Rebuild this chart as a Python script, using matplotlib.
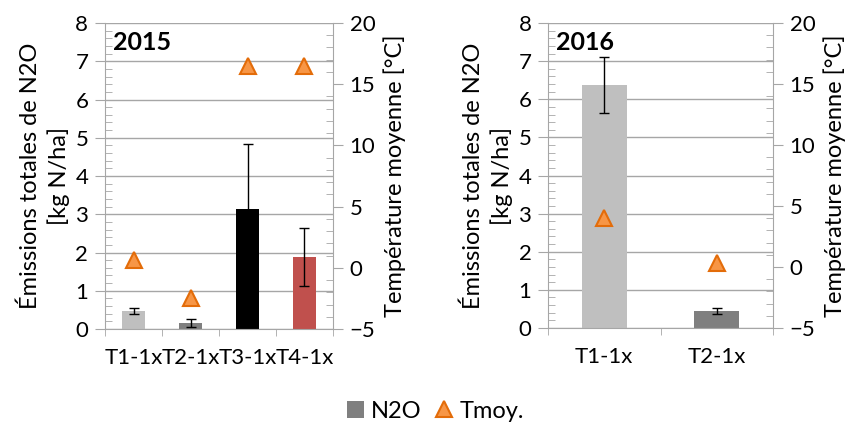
import matplotlib.pyplot as plt
from matplotlib.lines import Line2D
from matplotlib.patches import Patch
from matplotlib.ticker import MultipleLocator, FixedLocator

plt.rcParams['font.family'] = ['Lato', 'DejaVu Sans']

# ---------------- data ----------------
cat_2015 = ["T1-1x", "T2-1x", "T3-1x", "T4-1x"]
n2o_2015 = [0.47, 0.16, 3.13, 1.88]
err_2015 = [0.09, 0.10, 1.71, 0.76]
tmoy_2015 = [0.6, -2.5, 16.5, 16.5]
col_2015 = ["#BFBFBF", "#7F7F7F", "#000000", "#C0504D"]

cat_2016 = ["T1-1x", "T2-1x"]
n2o_2016 = [6.37, 0.45]
err_2016 = [0.73, 0.08]
tmoy_2016 = [4.0, 0.3]
col_2016 = ["#BFBFBF", "#7F7F7F"]

GRIS = "#A6A6A6"
TRI_FACE = "#F79646"
TRI_EDGE = "#E36C09"
FS_TICK = 16
FS_LAB = 17


def panneau(rect, cats, vals, errs, temps, cols, annee):
    ax = fig.add_axes(rect)
    x = list(range(len(cats)))
    ax.bar(x, vals, width=0.4, color=cols, zorder=2)
    ax.errorbar(x, vals, yerr=errs, fmt="none", ecolor="black",
                elinewidth=1, capsize=3.5, capthick=1, zorder=3)

    ax.set_xlim(-0.5, len(cats) - 0.5)
    ax.set_ylim(0, 8)
    ax.yaxis.set_major_locator(MultipleLocator(1))
    ax.yaxis.set_minor_locator(MultipleLocator(0.2))
    ax.grid(axis="y", which="major", color=GRIS, linewidth=1, zorder=0)
    ax.set_axisbelow(True)

    ax.set_xticks(x)
    ax.set_xticklabels(cats, fontsize=FS_TICK)
    ax.xaxis.set_minor_locator(FixedLocator([i - 0.5 for i in range(len(cats) + 1)]))
    ax.tick_params(axis="x", which="major", length=0, pad=14)
    ax.tick_params(axis="x", which="minor", length=5, color=GRIS, direction="out")
    ax.tick_params(axis="y", which="major", length=7, color=GRIS, labelsize=FS_TICK, pad=5)
    ax.tick_params(axis="y", which="minor", length=5, color=GRIS, direction="in")

    for s in ["top", "right"]:
        ax.spines[s].set_visible(False)
    for s in ["left", "bottom"]:
        ax.spines[s].set_color(GRIS)

    ax.set_ylabel("Émissions totales de N2O\n[kg N/ha]", fontsize=FS_LAB, labelpad=4,
                  linespacing=1.35)

    ax2 = ax.twinx()
    ax2.plot(x, temps, linestyle="none", marker="^", markersize=11,
             markerfacecolor=TRI_FACE, markeredgecolor=TRI_EDGE,
             markeredgewidth=1.5, zorder=4)
    ax2.set_ylim(-5, 20)
    ax2.yaxis.set_major_locator(MultipleLocator(5))
    ax2.yaxis.set_minor_locator(MultipleLocator(1))
    ax2.tick_params(axis="y", which="major", length=7, color=GRIS, labelsize=FS_TICK, pad=5)
    ax2.tick_params(axis="y", which="minor", length=5, color=GRIS, direction="in")
    for s in ["top", "left", "bottom"]:
        ax2.spines[s].set_visible(False)
    ax2.spines["right"].set_color(GRIS)
    ax2.set_ylabel("Température moyenne [°C]", fontsize=FS_LAB, labelpad=6)

    ax.text(0.035, 0.975, annee, transform=ax.transAxes, fontsize=18,
            fontweight="bold", va="top", ha="left", zorder=5)
    return ax


fig = plt.figure(figsize=(8.51, 4.23), dpi=100)

panneau([0.1234, 0.2222, 0.2679, 0.7234], cat_2015, n2o_2015, err_2015,
        tmoy_2015, col_2015, "2015")
panneau([0.6440, 0.2246, 0.2643, 0.7210], cat_2016, n2o_2016, err_2016,
        tmoy_2016, col_2016, "2016")

handles = [
    Patch(facecolor="#7F7F7F", edgecolor="none", label="N2O"),
    Line2D([], [], linestyle="none", marker="^", markersize=11,
           markerfacecolor=TRI_FACE, markeredgecolor=TRI_EDGE,
           markeredgewidth=1.5, label="Tmoy."),
]
fig.legend(handles=handles, loc="center", bbox_to_anchor=(0.512, 0.028),
           ncol=2, frameon=False, fontsize=FS_LAB, handlelength=0.7,
           handletextpad=0.3, columnspacing=0.6)

fig.savefig("out.png", dpi=100)
